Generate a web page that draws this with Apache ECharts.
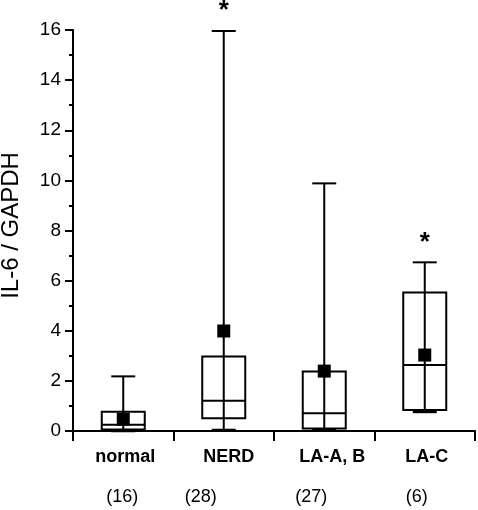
<!DOCTYPE html>
<html>
<head>
<meta charset="utf-8">
<script src="https://cdn.jsdelivr.net/npm/echarts@6/dist/echarts.min.js"></script>
<style>
html,body{margin:0;padding:0;background:#fff;}
#chart{width:478px;height:510px;}
</style>
</head>
<body>
<div id="chart"></div>
<script>
const categories = ['normal', 'NERD', 'LA-A, B', 'LA-C'];
const counts = ['(16)', '(28)', '(27)', '(6)'];
const whiskerLow = [0.01, 0.03, 0.04, 0.77];
const q1 = [0.06, 0.51, 0.10, 0.84];
const median = [0.25, 1.21, 0.71, 2.63];
const q3 = [0.77, 2.97, 2.37, 5.53];
const whiskerHigh = [2.18, 15.96, 9.88, 6.73];
const mean = [0.47, 3.99, 2.39, 3.03];
const significance = ['', '*', '', '*'];
const yTicks = [0, 2, 4, 6, 8, 10, 12, 14, 16];

// label horizontal nudges (styling only)
const nameShift = [2, 5, 8, 2];
const countShift = [-1, -23, -13, -8];

function richFor(shifts, base) {
  const r = {};
  shifts.forEach((d, i) => {
    r['c' + i] = Object.assign({}, base, {
      padding: d >= 0 ? [0, 0, 0, 2 * d] : [0, -2 * d, 0, 0]
    });
  });
  return r;
}

const FONT = '"Liberation Sans", Arial, sans-serif';
const chart = echarts.init(document.getElementById('chart'), null, {renderer: 'canvas'});

const seriesData = categories.map((c, i) => [i, whiskerLow[i], q1[i], median[i], q3[i], whiskerHigh[i], mean[i]]);

chart.setOption({
  animation: false,
  backgroundColor: '#fff',
  grid: {left: 73, right: 3, top: 30, bottom: 79, containLabel: false, outerBoundsMode: 'none'},
  xAxis: [{
    type: 'category',
    data: categories,
    boundaryGap: true,
    axisLine: {show: true, lineStyle: {color: '#000', width: 2}},
    axisTick: {show: true, interval: 0, inside: false, length: 10, lineStyle: {color: '#000', width: 2}},
    axisLabel: {
      interval: 0, margin: 17, color: '#000', fontFamily: FONT, fontSize: 18, fontWeight: 'bold',
      formatter: (v, i) => '{c' + i + '|' + v + '}',
      rich: richFor(nameShift, {fontFamily: FONT, fontSize: 18, fontWeight: 'bold', color: '#000'})
    },
    splitLine: {show: false}
  }, {
    type: 'category',
    data: counts,
    position: 'bottom',
    boundaryGap: true,
    axisLine: {show: false},
    axisTick: {show: false},
    axisLabel: {
      interval: 0, margin: 57, color: '#000', fontFamily: FONT, fontSize: 18,
      formatter: (v, i) => '{c' + i + '|' + v + '}',
      rich: richFor(countShift, {fontFamily: FONT, fontSize: 18, color: '#000'})
    },
    splitLine: {show: false}
  }],
  yAxis: {
    type: 'value',
    min: 0, max: 16, interval: 2,
    name: 'IL-6 / GAPDH',
    nameLocation: 'middle',
    nameGap: 50,
    nameTextStyle: {fontFamily: FONT, fontSize: 24, color: '#000', padding: [0, 0, 0, 10]},
    axisLine: {show: true, lineStyle: {color: '#000', width: 2}},
    axisTick: {show: true, inside: false, length: 8, lineStyle: {color: '#000', width: 2}},
    minorTick: {show: true, splitNumber: 2, length: 4, lineStyle: {color: '#000', width: 2}},
    axisLabel: {
      margin: 12, color: '#000', fontFamily: FONT, fontSize: 19,
      formatter: v => (yTicks.indexOf(v) >= 0 ? String(v) : '')
    },
    splitLine: {show: false}
  },
  series: [{
    type: 'custom',
    xAxisIndex: 0,
    clip: false,
    data: seriesData,
    encode: {x: 0, y: [1, 2, 3, 4, 5, 6]},
    renderItem: function (params, api) {
      const idx = api.value(0);
      const pLow = api.coord([idx, api.value(1)]);
      const pQ1 = api.coord([idx, api.value(2)]);
      const pMed = api.coord([idx, api.value(3)]);
      const pQ3 = api.coord([idx, api.value(4)]);
      const pHigh = api.coord([idx, api.value(5)]);
      const pMean = api.coord([idx, api.value(6)]);
      const cx = pLow[0];
      const bw = 43, cw = 24, ms = 13;
      const stroke = {stroke: '#000', lineWidth: 2, fill: null};
      const children = [
        {type: 'line', shape: {x1: cx, y1: pLow[1], x2: cx, y2: pHigh[1]}, style: stroke},
        {type: 'rect', shape: {x: cx - bw / 2, y: pQ3[1], width: bw, height: pQ1[1] - pQ3[1]}, style: {stroke: '#000', lineWidth: 2, fill: 'rgba(0,0,0,0)'}},
        {type: 'line', shape: {x1: cx - bw / 2, y1: pMed[1], x2: cx + bw / 2, y2: pMed[1]}, style: stroke},
        {type: 'line', shape: {x1: cx - cw / 2, y1: pHigh[1], x2: cx + cw / 2, y2: pHigh[1]}, style: stroke},
        {type: 'line', shape: {x1: cx - cw / 2, y1: pLow[1], x2: cx + cw / 2, y2: pLow[1]}, style: {stroke: '#000', lineWidth: 3}},
        {type: 'rect', shape: {x: cx - ms / 2, y: pMean[1] - ms / 2, width: ms, height: ms}, style: {fill: '#000', stroke: null}}
      ];
      const sig = significance[idx];
      if (sig) {
        children.push({
          type: 'text',
          style: {text: sig, x: cx, y: pHigh[1] - 20, align: 'center', verticalAlign: 'middle',
                  fontFamily: FONT, fontSize: 26, fontWeight: 'bold', fill: '#000'}
        });
      }
      return {type: 'group', children: children};
    }
  }]
});
</script>
</body>
</html>
